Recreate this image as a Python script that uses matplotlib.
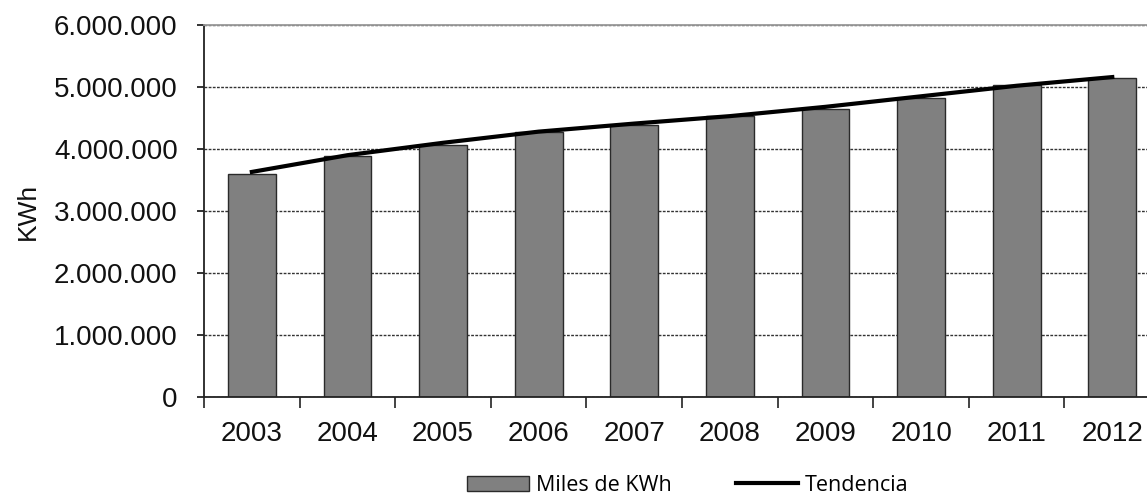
import matplotlib
matplotlib.use("Agg")
import matplotlib.pyplot as plt
from matplotlib.ticker import FuncFormatter, FixedLocator

years = ["2003", "2004", "2005", "2006", "2007", "2008", "2009", "2010", "2011", "2012"]
consumo = [3600000, 3890000, 4060000, 4270000, 4390000, 4530000, 4640000, 4830000, 5030000, 5140000]
tendencia = [3630000, 3900000, 4100000, 4280000, 4410000, 4530000, 4680000, 4850000, 5020000, 5160000]

plt.rcParams['font.family'] = ['Liberation Sans', 'DejaVu Sans']

fig = plt.figure(figsize=(11.47, 4.94), dpi=100)
ax = fig.add_axes([0.1779, 0.1964, 0.8335, 0.753])

x = list(range(len(years)))
bars = ax.bar(x, consumo, width=0.5, color='#808080', edgecolor='#2a2a2a', linewidth=1.0,
              zorder=2, label='Miles de KWh')
line, = ax.plot(x, tendencia, color='black', linewidth=3, zorder=3, label='Tendencia')

ax.set_xlim(-0.5, len(years) - 0.5)
ax.set_ylim(0, 6000000)
ax.set_yticks(range(0, 6000001, 1000000))
ax.yaxis.set_major_formatter(FuncFormatter(lambda v, p: f"{int(v):,}".replace(",", ".")))
ax.yaxis.grid(True, linestyle=(0, (2, 1)), color='#333333', linewidth=1.0, zorder=0)
ax.set_axisbelow(True)

ax.set_xticks(x)
ax.set_xticklabels(years)
ax.xaxis.set_minor_locator(FixedLocator([i - 0.5 for i in range(len(years) + 1)]))
ax.tick_params(axis='x', which='major', length=0, pad=17, labelsize=20, colors='#111111')
ax.tick_params(axis='x', which='minor', length=8, width=1.2, direction='out', color='#222222')
ax.tick_params(axis='y', length=5, width=1.2, pad=14, labelsize=20, colors='#111111')

ax.set_ylabel('KWh', fontsize=19, color='#111111')
ax.yaxis.set_label_coords(-0.172, 0.5)

for s in ['left', 'bottom']:
    ax.spines[s].set_color('#222222')
    ax.spines[s].set_linewidth(1.3)
ax.spines['top'].set_color('#999999')
ax.spines['top'].set_linewidth(1.3)
ax.spines['right'].set_visible(False)

fig.legend([bars, line], ['Miles de KWh', 'Tendencia'], loc='center',
           bbox_to_anchor=(0.5994, 0.018), ncol=2, frameon=False,
           prop={'family': ['Open Sans', 'DejaVu Sans'], 'size': 15.5},
           handlelength=2.9, handleheight=0.7, columnspacing=3.0, handletextpad=0.3)

fig.savefig('out.png', dpi=100)
